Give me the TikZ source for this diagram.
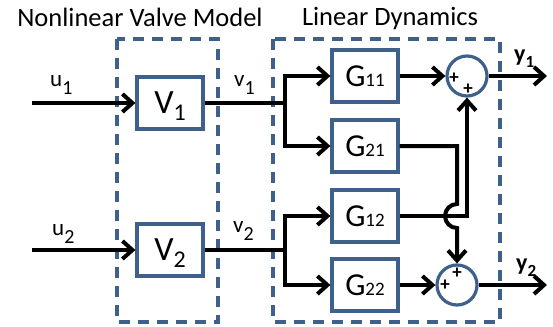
\documentclass[tikz,border=0pt]{standalone}
\usepackage{fontspec}
\setmainfont{Carlito}
\usetikzlibrary{arrows.meta, calc}
\definecolor{frameblue}{RGB}{62,96,138}
\newcommand{\fs}[2]{{\fontsize{#1}{#1}\selectfont #2}}
\newcommand{\subl}[3]{\raisebox{-#1pt}{\fs{#2}{#3}}}

\begin{document}
\begin{tikzpicture}[x=1pt, y=1pt, yscale=-1,
  blk/.style={draw=frameblue, line width=3.2pt, minimum width=66pt, minimum height=52pt, inner sep=0pt},
  sumnode/.style={circle, draw=frameblue, line width=3.2pt, minimum size=40pt, inner sep=0pt},
  wire/.style={line width=4pt},
  arr/.style={line width=4pt, -{Straight Barb[length=10pt,width=18pt]}},
  plus/.style={font=\fontsize{19}{19}\selectfont\bfseries, inner sep=0pt},
  sig/.style={anchor=base west, inner sep=0pt},
  grp/.style={draw=frameblue, line width=3.4pt, dash pattern=on 11pt off 8pt}]
\useasboundingbox (0,0) rectangle (553,326);
% group frames (drawn first)
\draw[grp] (117,39) rectangle (218,322);
\draw[grp] (273,39) rectangle (500,322);
\node[anchor=base, font=\fontsize{26.5}{30}\selectfont] (ttlvalve) at (140,27) {Nonlinear Valve Model};
\node[anchor=base, font=\fontsize{26.5}{30}\selectfont] (ttllin) at (390,26) {Linear Dynamics};
% valves
\node[blk, text depth=0pt] (V1) at (170,103) {\fs{34}{V}\subl{7}{24}{1}};
\node[blk, text depth=0pt] (V2) at (170,250) {\fs{34}{V}\subl{7}{24}{2}};
% transfer blocks
\node[blk] (G11) at (365,76) {\fs{32}{G}\fs{19}{11}};
\node[blk] (G21) at (365,146) {\fs{32}{G}\fs{19}{21}};
\node[blk] (G12) at (365,216) {\fs{32}{G}\fs{19}{12}};
\node[blk] (G22) at (365,285) {\fs{32}{G}\fs{19}{22}};
% summing junctions
\node[sumnode] (sum1) at (467,76) {};
\node[sumnode] (sum2) at (457,285) {};
\node[plus] (p1a) at (454,78) {+};
\node[plus] (p1b) at (468,89) {+};
\node[plus] (p2a) at (457,273) {+};
\node[plus] (p2b) at (445,285) {+};
% free ends and branch points
\coordinate (u1in) at (32,103);
\coordinate (u2in) at (32,250);
\coordinate (fork1) at (285,103);
\coordinate (fork2) at (285,250);
\coordinate (y1out) at (547,76);
\coordinate (y2out) at (547,285);
\coordinate (hop) at (457,216);
% signal labels
\node[sig] (lu1) at (50,87) {\fs{23}{u}\subl{8}{20}{1}};
\node[sig] (lu2) at (52,235) {\fs{23}{u}\subl{8}{20}{2}};
\node[sig] (lv1) at (234,87) {\fs{23}{v}\subl{8}{20}{1}};
\node[sig] (lv2) at (233,232) {\fs{23}{v}\subl{8}{20}{2}};
\node[sig] (ly1) at (514,62) {\bfseries\fs{24}{y}\subl{6}{17}{1}};
\node[sig] (ly2) at (516,270) {\bfseries\fs{24}{y}\subl{6}{17}{2}};
% connectors
\draw[arr] (u1in) -- (V1);
\draw[arr] (u2in) -- (V2);
\draw[wire] (V1) -- (fork1);
\draw[wire] (V2) -- (fork2);
\draw[arr] (fork1) |- (G11);
\draw[arr] (fork1) |- (G21);
\draw[arr] (fork2) |- (G12);
\draw[arr] (fork2) |- (G22);
\draw[arr] (G11) -- (sum1);
\draw[arr] (G22) -- (sum2);
\draw[arr] (G12.east) -| (sum1.south);
\draw[arr] (G21.east) -| ($(hop)+(0,-12)$) arc[start angle=270, end angle=90, radius=12pt] -- (sum2.north);
\draw[arr] (sum1) -- (y1out);
\draw[arr] (sum2) -- (y2out);
\end{tikzpicture}
\end{document}
